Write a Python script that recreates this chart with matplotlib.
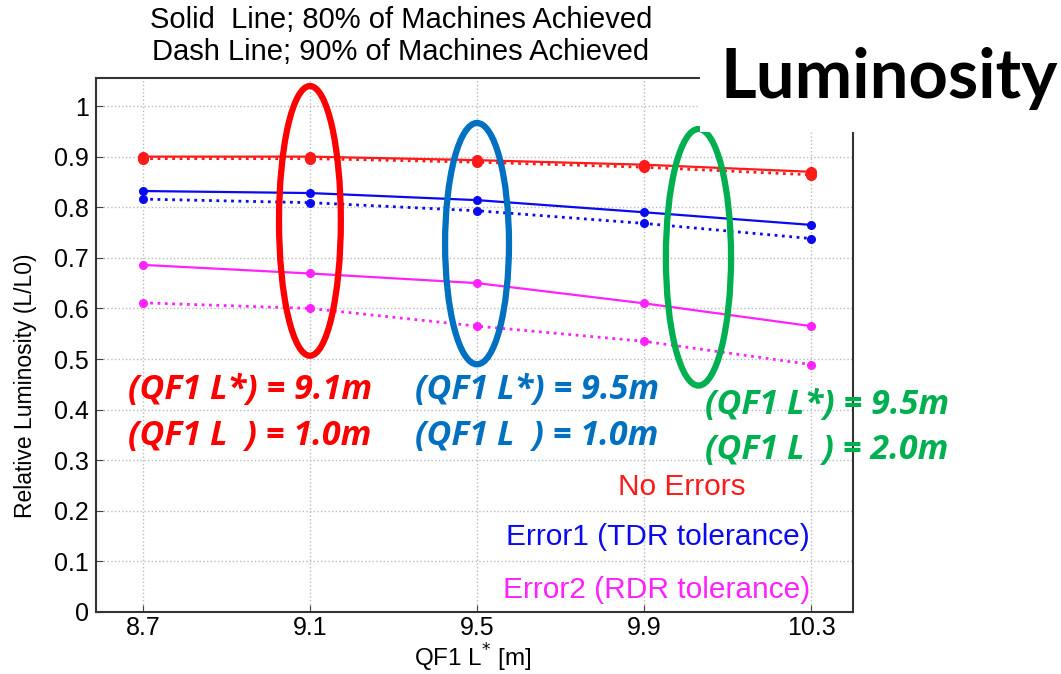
import matplotlib
matplotlib.use("Agg")
import matplotlib.pyplot as plt
from matplotlib.patches import Ellipse, Rectangle

# QF1 L* positions [m]
qf1_lstar = [8.7, 9.1, 9.5, 9.9, 10.3]

# relative luminosity, solid = 80% of machines, dotted = 90% of machines
no_err_80 = [0.900, 0.900, 0.893, 0.884, 0.870]
no_err_90 = [0.896, 0.896, 0.889, 0.879, 0.864]
err1_80 = [0.832, 0.828, 0.814, 0.790, 0.765]
err1_90 = [0.816, 0.809, 0.793, 0.768, 0.738]
err2_80 = [0.686, 0.669, 0.650, 0.610, 0.565]
err2_90 = [0.611, 0.600, 0.565, 0.535, 0.489]

xticks = [8.7, 9.1, 9.5, 9.9, 10.3]
yticks = [0, 0.1, 0.2, 0.3, 0.4, 0.5, 0.6, 0.7, 0.8, 0.9, 1]

plt.rcParams['font.family'] = ['Liberation Sans', 'DejaVu Sans']

fig = plt.figure(figsize=(10.61, 6.74), dpi=100)
ax = fig.add_axes([0.0905, 0.092, 0.7135, 0.792])

series = [
    (no_err_80, no_err_90, '#ff1a1a', 7),
    (err1_80, err1_90, '#0a0af0', 5.5),
    (err2_80, err2_90, '#ff22ff', 5.5),
]
for solid, dotted, col, ms in series:
    ax.plot(qf1_lstar, solid, '-', color=col, lw=1.6, marker='o', ms=ms)
    ax.plot(qf1_lstar, dotted, ':', color=col, lw=2.0, marker='o', ms=ms)

ax.set_xlim(8.588, 10.40)
ax.set_ylim(0, 1.055)
ax.set_xticks(xticks)
ax.set_xticklabels([str(v) for v in xticks])
ax.set_yticks(yticks)
ax.set_yticklabels([f"{v:g}" for v in yticks])
ax.tick_params(labelsize=18, direction='in', length=5, color='#444444', pad=5)
ax.tick_params(axis='x', pad=3)
ax.grid(True, ls=':', color='#bbbbbb', lw=1)
for s in ax.spines.values():
    s.set_color('#333333')
    s.set_linewidth(1.5)

fig.text(0.446, 1 - 658 / 674, "QF1 L$^{*}$ [m]", ha='center', va='center', fontsize=17.5)
fig.text(0.024, 1 - 386 / 674, "Relative Luminosity (L/L0)", rotation=90,
         ha='center', va='center', fontsize=16.5)

fig.text(0.378, 1 - 20 / 674, "Solid  Line; 80% of Machines Achieved",
         ha='center', va='center', fontsize=21)
fig.text(0.378, 1 - 52 / 674, "Dash Line; 90% of Machines Achieved",
         ha='center', va='center', fontsize=21)

# series labels inside the plot
fig.text(746 / 1061, 1 - 487 / 674, "No Errors", color='#ff1a1a', ha='right', va='center', fontsize=21.5)
fig.text(810 / 1061, 1 - 537 / 674, "Error1 (TDR tolerance)", color='#0a0af0', ha='right', va='center', fontsize=21.5)
fig.text(810 / 1061, 1 - 590 / 674, "Error2 (RDR tolerance)", color='#ff22ff', ha='right', va='center', fontsize=21.5)

# highlighted cases
red, blue, green = '#ff0000', '#0070c0', '#00b050'
ax.add_patch(Ellipse((9.1, 0.773), 0.148, 0.533, fill=False, ec=red, lw=4.5, clip_on=False, zorder=4))
ax.add_patch(Ellipse((9.5, 0.728), 0.153, 0.477, fill=False, ec=blue, lw=4.5, clip_on=False, zorder=4))
ax.add_patch(Ellipse((10.03, 0.701), 0.156, 0.507, fill=False, ec=green, lw=4.5, clip_on=False, zorder=4))

lbl = dict(family=['Open Sans', 'DejaVu Sans'], fontweight='bold', style='italic',
           fontsize=24.5, va='center', ha='left')
fig.text(128 / 1061, 1 - 390 / 674, "(QF1 L*) = 9.1m", color=red, **lbl)
fig.text(128 / 1061, 1 - 436 / 674, "(QF1 L  ) = 1.0m", color=red, **lbl)
fig.text(415 / 1061, 1 - 390 / 674, "(QF1 L*) = 9.5m", color=blue, **lbl)
fig.text(415 / 1061, 1 - 436 / 674, "(QF1 L  ) = 1.0m", color=blue, **lbl)
fig.text(705 / 1061, 1 - 405 / 674, "(QF1 L*) = 9.5m", color=green, **lbl)
fig.text(705 / 1061, 1 - 450 / 674, "(QF1 L  ) = 2.0m", color=green, **lbl)

# white box with the big title over the top-right corner
fig.patches.append(Rectangle((700 / 1061, 1 - 132 / 674), 1, 1, transform=fig.transFigure,
                             fc='white', ec='none', zorder=5))
fig.text(1058 / 1061, 1 - 78 / 674, "Luminosity", ha='right', va='center', fontsize=49.5,
         fontweight='bold', family=['Lato', 'DejaVu Sans'], zorder=6)

fig.savefig("out.png", dpi=100)
